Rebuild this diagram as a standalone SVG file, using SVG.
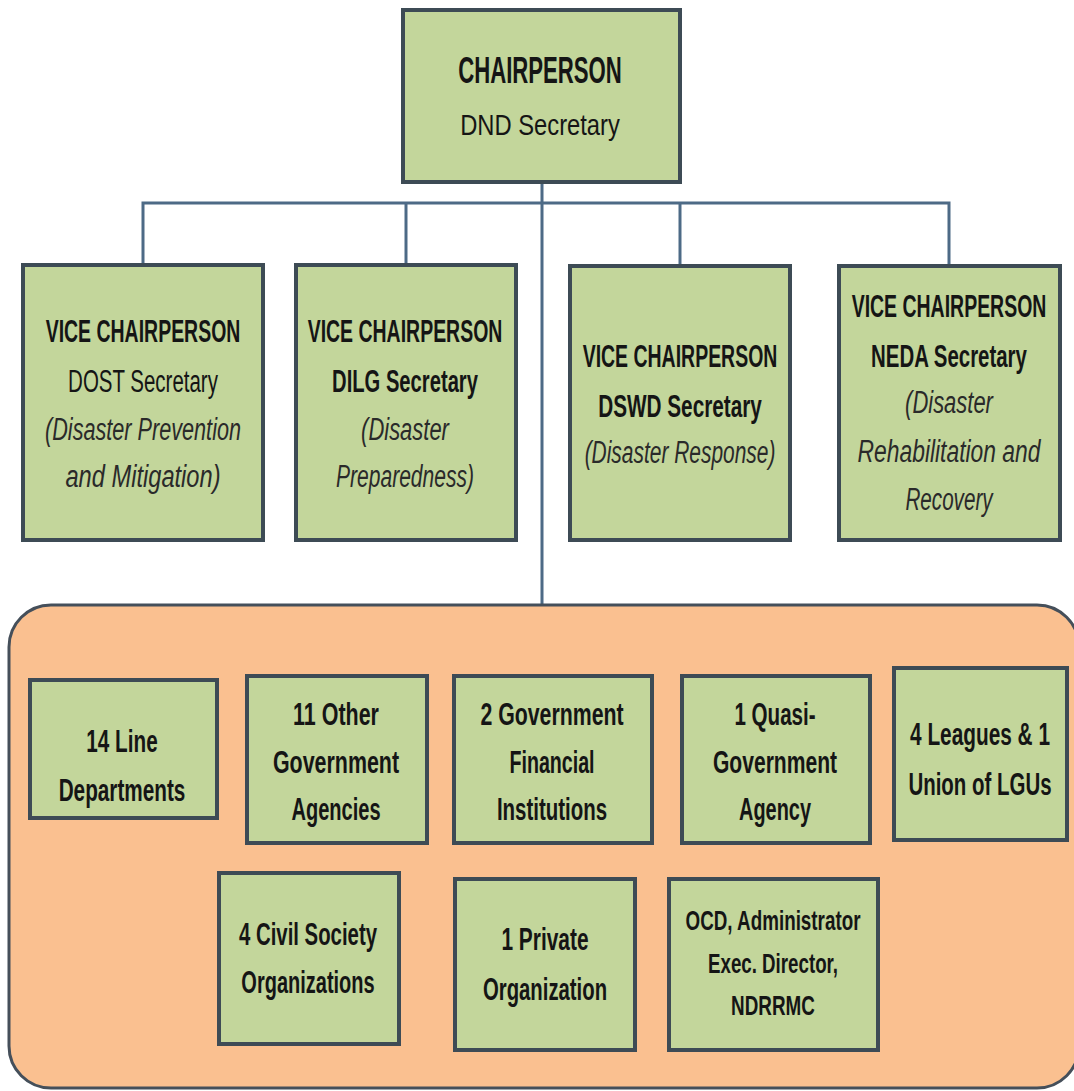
<svg xmlns="http://www.w3.org/2000/svg" width="1074" height="1091" viewBox="0 0 1074 1091">
<style>
.box{fill:#c3d69b;stroke:#3d4b55;stroke-width:4}
.cont{fill:#fac090;stroke:#454f5a;stroke-width:3}
.conn{fill:none;stroke:#4d6a86;stroke-width:3}
text{font-family:"Liberation Sans",Arial,sans-serif;fill:#151515;text-anchor:middle;font-size:31px}
.b{font-weight:bold}
.i{font-style:italic;fill:#2a2a2a}
</style>
<rect width="1074" height="1091" fill="#ffffff"/>
<g id="connectors">
<path class="conn" d="M542,182 V605"/>
<path class="conn" d="M143,265 V203 H949 V265"/>
<path class="conn" d="M406,203 V265"/>
<path class="conn" d="M680,203 V265"/>
</g>
<g id="chair">
<rect class="box" x="403" y="10" width="277" height="172"/>
<g transform="translate(540 0) scale(0.66 1)">
<text class="b" x="0" y="83" style="font-size:36px" textLength="248" lengthAdjust="spacingAndGlyphs">CHAIRPERSON</text>
<text x="0" y="135" style="font-size:30px" textLength="242" lengthAdjust="spacingAndGlyphs">DND Secretary</text>
</g>
</g>
<g id="vc-dost">
<rect class="box" x="23" y="265" width="240" height="275"/>
<g transform="translate(143 0) scale(0.66 1)">
<text class="b" x="0" y="342" textLength="295" lengthAdjust="spacingAndGlyphs">VICE CHAIRPERSON</text>
<text x="0" y="392" textLength="227" lengthAdjust="spacingAndGlyphs">DOST Secretary</text>
<text class="i" x="0" y="440" textLength="297" lengthAdjust="spacingAndGlyphs">(Disaster Prevention</text>
<text class="i" x="0" y="487" textLength="235" lengthAdjust="spacingAndGlyphs">and Mitigation)</text>
</g>
</g>
<g id="vc-dilg">
<rect class="box" x="296" y="265" width="220" height="275"/>
<g transform="translate(405 0) scale(0.66 1)">
<text class="b" x="0" y="342" textLength="295" lengthAdjust="spacingAndGlyphs">VICE CHAIRPERSON</text>
<text class="b" x="0" y="392" textLength="221" lengthAdjust="spacingAndGlyphs">DILG Secretary</text>
<text class="i" x="0" y="440" textLength="133" lengthAdjust="spacingAndGlyphs">(Disaster</text>
<text class="i" x="0" y="487" textLength="209" lengthAdjust="spacingAndGlyphs">Preparedness)</text>
</g>
</g>
<g id="vc-dswd">
<rect class="box" x="570" y="266" width="220" height="274"/>
<g transform="translate(680 0) scale(0.66 1)">
<text class="b" x="0" y="367" textLength="295" lengthAdjust="spacingAndGlyphs">VICE CHAIRPERSON</text>
<text class="b" x="0" y="417" textLength="248" lengthAdjust="spacingAndGlyphs">DSWD Secretary</text>
<text class="i" x="0" y="463" textLength="289" lengthAdjust="spacingAndGlyphs">(Disaster Response)</text>
</g>
</g>
<g id="vc-neda">
<rect class="box" x="839" y="266" width="221" height="274"/>
<g transform="translate(949 0) scale(0.66 1)">
<text class="b" x="0" y="317" textLength="295" lengthAdjust="spacingAndGlyphs">VICE CHAIRPERSON</text>
<text class="b" x="0" y="367" textLength="236" lengthAdjust="spacingAndGlyphs">NEDA Secretary</text>
<text class="i" x="0" y="413" textLength="133" lengthAdjust="spacingAndGlyphs">(Disaster</text>
<text class="i" x="0" y="462" textLength="277" lengthAdjust="spacingAndGlyphs">Rehabilitation and</text>
<text class="i" x="0" y="510" textLength="132" lengthAdjust="spacingAndGlyphs">Recovery</text>
</g>
</g>
<g id="members">
<rect class="cont" x="9" y="605" width="1070" height="483" rx="42" ry="42"/>
</g>
<g id="line-departments">
<rect class="box" x="30" y="680" width="187" height="138"/>
<g transform="translate(122 0) scale(0.66 1)">
<text class="b" x="0" y="752" textLength="108" lengthAdjust="spacingAndGlyphs">14 Line</text>
<text class="b" x="0" y="801" textLength="192" lengthAdjust="spacingAndGlyphs">Departments</text>
</g>
</g>
<g id="other-agencies">
<rect class="box" x="247" y="676" width="180" height="167"/>
<g transform="translate(336 0) scale(0.66 1)">
<text class="b" x="0" y="725" textLength="130" lengthAdjust="spacingAndGlyphs">11 Other</text>
<text class="b" x="0" y="773" textLength="191" lengthAdjust="spacingAndGlyphs">Government</text>
<text class="b" x="0" y="820" textLength="135" lengthAdjust="spacingAndGlyphs">Agencies</text>
</g>
</g>
<g id="gfi">
<rect class="box" x="454" y="676" width="198" height="167"/>
<g transform="translate(552 0) scale(0.66 1)">
<text class="b" x="0" y="725" textLength="217" lengthAdjust="spacingAndGlyphs">2 Government</text>
<text class="b" x="0" y="773" textLength="129" lengthAdjust="spacingAndGlyphs">Financial</text>
<text class="b" x="0" y="820" textLength="167" lengthAdjust="spacingAndGlyphs">Institutions</text>
</g>
</g>
<g id="quasi">
<rect class="box" x="682" y="676" width="188" height="167"/>
<g transform="translate(775 0) scale(0.66 1)">
<text class="b" x="0" y="725" textLength="123" lengthAdjust="spacingAndGlyphs">1 Quasi-</text>
<text class="b" x="0" y="773" textLength="188" lengthAdjust="spacingAndGlyphs">Government</text>
<text class="b" x="0" y="820" textLength="109" lengthAdjust="spacingAndGlyphs">Agency</text>
</g>
</g>
<g id="leagues">
<rect class="box" x="894" y="668" width="173" height="172"/>
<g transform="translate(980 0) scale(0.66 1)">
<text class="b" x="0" y="745" textLength="212" lengthAdjust="spacingAndGlyphs">4 Leagues &amp; 1</text>
<text class="b" x="0" y="795" textLength="217" lengthAdjust="spacingAndGlyphs">Union of LGUs</text>
</g>
</g>
<g id="civil-society">
<rect class="box" x="219" y="873" width="180" height="171"/>
<g transform="translate(308 0) scale(0.66 1)">
<text class="b" x="0" y="945" textLength="209" lengthAdjust="spacingAndGlyphs">4 Civil Society</text>
<text class="b" x="0" y="993" textLength="202" lengthAdjust="spacingAndGlyphs">Organizations</text>
</g>
</g>
<g id="private">
<rect class="box" x="455" y="879" width="180" height="171"/>
<g transform="translate(545 0) scale(0.66 1)">
<text class="b" x="0" y="950" textLength="132" lengthAdjust="spacingAndGlyphs">1 Private</text>
<text class="b" x="0" y="1000" textLength="188" lengthAdjust="spacingAndGlyphs">Organization</text>
</g>
</g>
<g id="ocd">
<rect class="box" x="669" y="879" width="209" height="171"/>
<g transform="translate(773 0) scale(0.66 1)">
<text class="b" x="0" y="930" style="font-size:28px" textLength="265" lengthAdjust="spacingAndGlyphs">OCD, Administrator</text>
<text class="b" x="0" y="973" style="font-size:28px" textLength="197" lengthAdjust="spacingAndGlyphs">Exec. Director,</text>
<text class="b" x="0" y="1015" style="font-size:28px" textLength="127" lengthAdjust="spacingAndGlyphs">NDRRMC</text>
</g>
</g>
</svg>
